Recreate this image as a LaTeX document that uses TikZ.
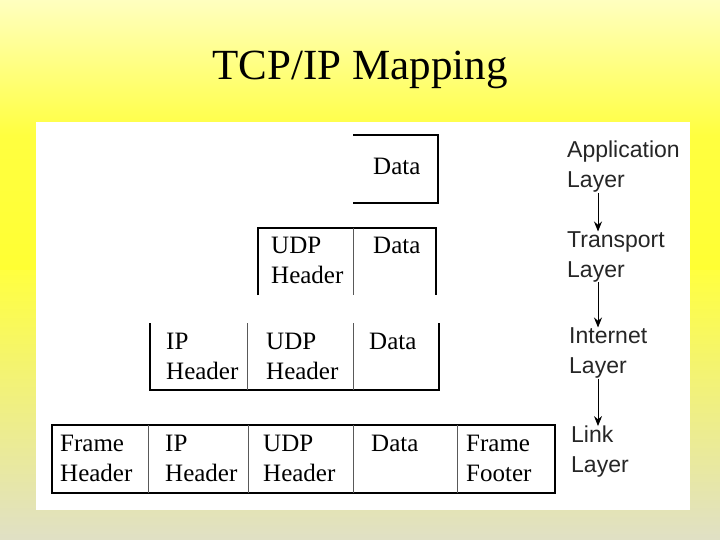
\documentclass[tikz,border=0pt]{standalone}
\usepackage{fontspec}
\setmainfont{Liberation Serif}
\newfontfamily\labelfont{Liberation Sans}
\usetikzlibrary{arrows.meta}

\begin{document}
\begin{tikzpicture}[
  x=1pt, y=-1pt,
  boxline/.style={black, line width=1.3pt},
  divider/.style={gray!70!black, line width=0.8pt},
  field/.style={anchor=west, align=left, font=\fontsize{25}{30}\selectfont, inner sep=0pt},
  layer/.style={anchor=west, align=left, font=\labelfont\fontsize{23}{30}\selectfont, text=black!85, inner sep=0pt},
  down/.style={-{Stealth[length=10pt,width=8pt]}, line width=1pt},
]
%background
\shade[top color=yellow!25, bottom color=yellow!80, middle color=yellow!75] (0,0) rectangle (720,270);
\shade[top color=yellow!75, bottom color=yellow!30!gray!35] (0,270) rectangle (720,540);
\useasboundingbox (0,0) rectangle (720,540);
\node[font=\fontsize{43}{48}\selectfont] (title) at (360,70) {TCP/IP Mapping};
\fill[white] (36,122) rectangle (690,510);

%application
\draw[boxline] (353,135) -- (438,135) -- (438,203) -- (353,203);
\node[field] (d1) at (373,166) {Data};

%transport
\draw[boxline] (258,295) -- (258,228) -- (436,228) -- (436,295);
\draw[divider] (353,228) -- (353,295);
\node[field] (u2) at (271,260) {UDP\\Header};
\node[field] (d2) at (373,245) {Data};

%internet
\draw[boxline] (150,323) -- (150,390) -- (439,390) -- (439,323);
\draw[divider] (247,323) -- (247,390);
\draw[divider] (353,323) -- (353,390);
\node[field] (i3) at (166,356) {IP\\Header};
\node[field] (u3) at (266,356) {UDP\\Header};
\node[field] (d3) at (369,341) {Data};

%link
\draw[boxline] (52,425) rectangle (555,493);
\foreach \xx in {148,248,353,457} \draw[divider] (\xx,425) -- (\xx,493);
\node[field] (f4) at (60,458) {Frame\\Header};
\node[field] (i4) at (165,458) {IP\\Header};
\node[field] (u4) at (263,458) {UDP\\Header};
\node[field] (d4) at (371,443) {Data};
\node[field] (t4) at (466,458) {Frame\\Footer};

%layers
\node[layer] (app) at (567,167) {Application\\Layer};
\node[layer] (tra) at (567,257) {Transport\\Layer};
\node[layer] (int) at (569,353) {Internet\\Layer};
\node[layer] (lnk) at (571,452) {Link\\Layer};
\draw[down] (app.south -| 598,0) -- (tra.north -| 598,0);
\draw[down] (tra.south -| 598,0) -- (int.north -| 598,0);
\draw[down] (int.south -| 598,0) -- (lnk.north -| 598,0);
\end{tikzpicture}
\end{document}
